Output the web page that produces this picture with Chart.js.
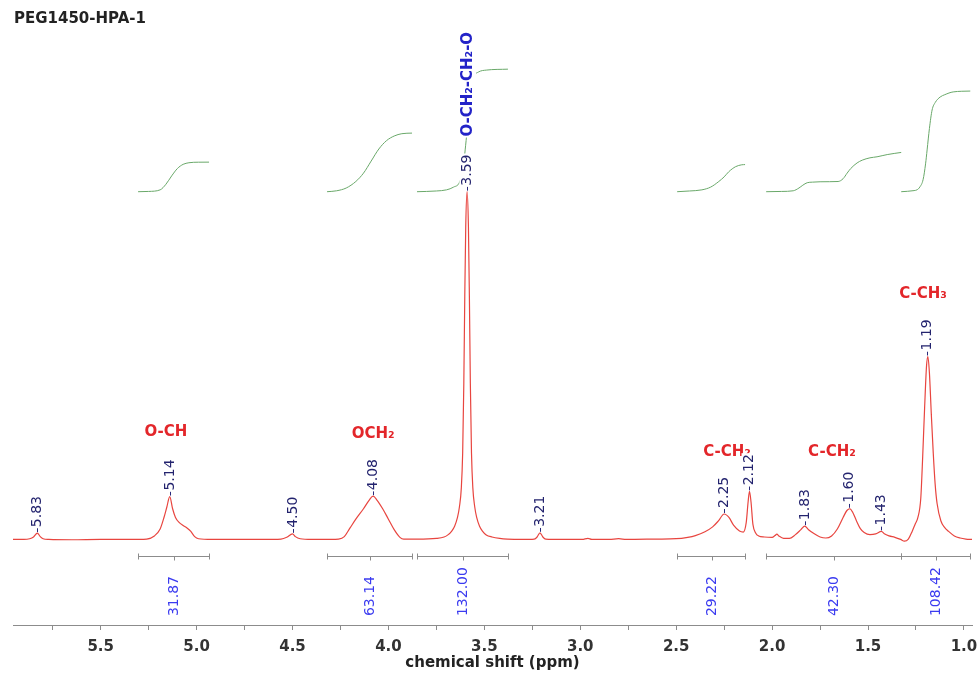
<!DOCTYPE html>
<html>
<head>
<meta charset="utf-8">
<script src="https://cdn.jsdelivr.net/npm/chart.js@4.4.1/dist/chart.umd.min.js"></script>
<style>
html, body { margin: 0; padding: 0; background: #fff; }
#wrap { position: relative; width: 977px; height: 677px; }
#sample { position: absolute; left: 14px; top: 9px; font: bold 15px "DejaVu Sans", sans-serif; color: #222; }
</style>
</head>
<body>
<div id="wrap">
  <div id="sample">PEG1450-HPA-1</div>
  <canvas id="nmr"></canvas>
</div>
<script>
// 1H spectrum (ppm, relative intensity; main peak = 100)
const specPpm = [5.957, 5.90, 5.87, 5.85, 5.83, 5.815, 5.80, 5.77, 5.65, 5.50, 5.40, 5.30,
  5.26, 5.22, 5.19, 5.17, 5.155, 5.14, 5.125, 5.11, 5.09, 5.07, 5.05, 5.03, 5.01, 4.99,
  4.92, 4.80, 4.65, 4.56, 4.53, 4.50, 4.485, 4.46, 4.40, 4.30,
  4.26, 4.23, 4.20, 4.17, 4.13, 4.10, 4.08, 4.06, 4.03, 4.00, 3.97, 3.94, 3.92,
  3.85, 3.75,
  3.71, 3.69, 3.67, 3.655, 3.64, 3.63, 3.62, 3.613, 3.607, 3.602, 3.597, 3.59,
  3.583, 3.578, 3.573, 3.567, 3.56, 3.55, 3.54, 3.525, 3.51, 3.49, 3.46,
  3.42, 3.38, 3.30,
  3.24, 3.225, 3.21, 3.195, 3.18, 3.10, 2.99, 2.96, 2.94, 2.85, 2.80, 2.76, 2.60,
  2.50, 2.44, 2.40, 2.35, 2.31, 2.28, 2.25, 2.225, 2.20, 2.17, 2.15,
  2.135, 2.125, 2.118, 2.11, 2.10, 2.085, 2.07, 2.04, 2.00, 1.985, 1.975, 1.965,
  1.94, 1.91, 1.88, 1.85, 1.83, 1.81, 1.78, 1.75, 1.72,
  1.69, 1.66, 1.63, 1.61, 1.595, 1.58, 1.56, 1.54, 1.52, 1.49, 1.46, 1.43, 1.415,
  1.39, 1.36, 1.33, 1.31, 1.29, 1.27, 1.255, 1.24, 1.225, 1.215, 1.205, 1.195, 1.188,
  1.18, 1.17, 1.16, 1.15, 1.14, 1.12, 1.10, 1.08, 1.05, 1.02, 0.99, 0.958];
const specInt = [0.2, 0.2, 0.4, 0.9, 2.0, 1.0, 0.4, 0.2, 0.1, 0.2, 0.2, 0.2,
  0.3, 1.2, 3.2, 6.5, 9.5, 12.5, 9.0, 6.5, 5.0, 4.2, 3.5, 2.5, 1.0, 0.4,
  0.2, 0.2, 0.2, 0.3, 0.8, 1.8, 1.0, 0.4, 0.2, 0.2,
  0.3, 1.0, 3.5, 6.0, 9.0, 11.5, 12.6, 11.5, 9.0, 6.0, 3.0, 0.8, 0.3,
  0.3, 0.5,
  0.9, 1.5, 2.6, 4.0, 6.5, 9.5, 15, 25, 45, 70, 90, 100,
  90, 70, 45, 25, 15, 9.5, 6.5, 4.0, 2.6, 1.5, 0.9,
  0.5, 0.3, 0.2,
  0.3, 0.9, 2.1, 0.9, 0.3, 0.2, 0.2, 0.5, 0.2, 0.2, 0.4, 0.2, 0.3,
  0.4, 0.8, 1.3, 2.4, 3.8, 5.5, 7.5, 6.5, 4.2, 2.6, 2.3,
  5, 11, 14, 11, 4.5, 2, 1.2, 0.9, 0.8, 1.3, 1.7, 1.2,
  0.5, 0.5, 1.5, 3.0, 4.0, 3.0, 1.8, 0.9, 0.6,
  1.2, 3.2, 6.5, 8.5, 9.0, 8.0, 5.5, 3.3, 2.2, 1.6, 1.8, 2.5, 1.8,
  1.2, 0.8, 0.2, -0.3, 0.3, 2.5, 4.5, 6.5, 12, 24, 38, 50, 52.7,
  48, 36, 25, 16, 10.5, 5.5, 3.6, 2.5, 1.2, 0.6, 0.3, 0.2];

// picked peaks
const peakPpm = [5.83, 5.14, 4.50, 4.08, 3.59, 3.21, 2.25, 2.12, 1.83, 1.60, 1.43, 1.19];

// integral regions and values
const intFrom = [5.305, 4.32, 3.851, 2.495, 2.031, 1.327];
const intTo = [4.935, 3.877, 3.377, 2.141, 1.327, 0.967];
const intText = ['31.87', '63.14', '132.00', '29.22', '42.30', '108.42'];

// integral curves (running integral)
const int1Ppm = [5.305, 5.25, 5.19, 5.16, 5.13, 5.10, 5.07, 5.04, 4.99, 4.935];
const int1Val = [0, 0.3, 2, 8, 17, 25, 29.5, 31.2, 31.8, 31.87];
const int2Ppm = [4.32, 4.27, 4.22, 4.17, 4.13, 4.09, 4.05, 4.01, 3.97, 3.93, 3.877];
const int2Val = [0, 1, 4, 11, 20, 33, 46, 55, 60, 62.5, 63.14];
const int3Ppm = [3.851, 3.75, 3.697, 3.66, 3.63, 3.61, 3.60, 3.59, 3.58, 3.57, 3.555, 3.53, 3.49, 3.377];
const int3Val = [0, 0.8, 2, 5, 10, 25, 45, 66, 92, 112, 124, 129, 131, 132];
const int4Ppm = [2.495, 2.43, 2.366, 2.32, 2.278, 2.25, 2.226, 2.19, 2.158, 2.141];
const int4Val = [0, 0.8, 2, 5, 11, 16, 21.5, 27, 29, 29.22];
const int5Ppm = [2.031, 1.95, 1.89, 1.86, 1.84, 1.817, 1.79, 1.75, 1.70, 1.656, 1.63, 1.609, 1.59, 1.557, 1.53, 1.49, 1.453, 1.40, 1.327];
const int5Val = [0, 0.3, 1, 4, 7, 9.7, 10.3, 10.7, 10.8, 11, 14, 20, 25, 31, 34, 36.5, 37.6, 40, 42.3];
const int6Ppm = [1.327, 1.26, 1.245, 1.23, 1.213, 1.20, 1.192, 1.18, 1.166, 1.15, 1.124, 1.10, 1.056, 0.967];
const int6Val = [0, 1.2, 2, 5, 13, 30, 45, 68, 88, 96, 102, 104.5, 107.5, 108.42];

// group assignments
const groupText = ['O-CH', 'OCH₂', 'C-CH₂', 'C-CH₂', 'C-CH₃'];
const groupPpm = [5.16, 4.08, 2.235, 1.688, 1.213];
const groupLevel = [30.9, 30.4, 25.2, 25.2, 70.5];

const toXY = (xs, ys) => xs.map((v, i) => ({ x: v, y: ys[i] }));

function intCurve(xs, ys) {
    return {
        data: toXY(xs, ys),
        yAxisID: 'y2',
        borderColor: '#69a869',
        borderWidth: 1,
        pointRadius: 0,
        cubicInterpolationMode: 'monotone'
    };
}

function peakTop(p) {
    let best = 0;
    specPpm.forEach((v, i) => {
        if (Math.abs(v - p) < 0.015 && specInt[i] > best) best = specInt[i];
    });
    return best;
}

function vText(ctx, text, px, py, font, color, bg) {
    ctx.save();
    ctx.translate(px, py);
    ctx.rotate(-Math.PI / 2);
    ctx.font = font;
    ctx.textAlign = 'left';
    ctx.textBaseline = 'middle';
    if (bg) {
        const w = ctx.measureText(text).width;
        ctx.fillStyle = '#fff';
        ctx.fillRect(-1, -8, w + 2, 16);
    }
    ctx.fillStyle = color;
    ctx.fillText(text, 0, 0);
    ctx.restore();
}

const labelPlugin = {
    id: 'nmrLabels',
    afterDatasetsDraw(chart) {
        const { ctx, scales: { x, y } } = chart;
        ctx.save();

        // integral brackets + values
        const by = Math.round(y.getPixelForValue(-4.6)) + 0.5;
        ctx.strokeStyle = '#8c8c8c';
        ctx.lineWidth = 1;
        intFrom.forEach((from, i) => {
            const x1 = Math.round(x.getPixelForValue(from)) + 0.5;
            const x2 = Math.round(x.getPixelForValue(intTo[i])) + 0.5;
            const xc = Math.round((x1 + x2) / 2) + 0.5;
            ctx.beginPath();
            ctx.moveTo(x1, by); ctx.lineTo(x2, by);
            ctx.moveTo(x1, by - 3); ctx.lineTo(x1, by + 3);
            ctx.moveTo(x2, by - 3); ctx.lineTo(x2, by + 3);
            ctx.moveTo(xc, by); ctx.lineTo(xc, by + 4);
            ctx.stroke();
            vText(ctx, intText[i], xc, y.getPixelForValue(-21.8), '14px "DejaVu Sans"', '#3b3bf0');
        });

        // group labels
        ctx.font = 'bold 15px "DejaVu Sans"';
        ctx.fillStyle = '#e3262a';
        ctx.textAlign = 'center';
        ctx.textBaseline = 'middle';
        groupText.forEach((t, i) => {
            ctx.fillText(t, x.getPixelForValue(groupPpm[i]), y.getPixelForValue(groupLevel[i]));
        });

        // peak picks
        peakPpm.forEach(p => {
            const px = Math.round(x.getPixelForValue(p)) + 0.5;
            const py = y.getPixelForValue(peakTop(p));
            ctx.strokeStyle = '#2a2a7a';
            ctx.beginPath();
            ctx.moveTo(px, py - 1);
            ctx.lineTo(px, py - 5);
            ctx.stroke();
            vText(ctx, p.toFixed(2), px, py - 6, '14px "DejaVu Sans"', '#23236e', true);
        });

        // main chain label
        vText(ctx, 'O-CH₂-CH₂-O', x.getPixelForValue(3.585), y.getPixelForValue(115.8),
            'bold 15px "DejaVu Sans"', '#2323c8', true);

        ctx.restore();
    }
};

new Chart(document.getElementById('nmr'), {
    type: 'line',
    data: {
        datasets: [
            {
                data: toXY(specPpm, specInt),
                yAxisID: 'y',
                borderColor: '#e8453f',
                borderWidth: 1.2,
                pointRadius: 0,
                cubicInterpolationMode: 'monotone'
            },
            intCurve(int1Ppm, int1Val),
            intCurve(int2Ppm, int2Val),
            intCurve(int3Ppm, int3Val),
            intCurve(int4Ppm, int4Val),
            intCurve(int5Ppm, int5Val),
            intCurve(int6Ppm, int6Val)
        ]
    },
    options: {
        responsive: true,
        maintainAspectRatio: false,
        animation: false,
        layout: { padding: { left: 13, right: 5, top: 0, bottom: 4 } },
        plugins: { legend: { display: false }, tooltip: { enabled: false } },
        scales: {
            x: {
                type: 'linear',
                reverse: true,
                min: 0.958,
                max: 5.957,
                afterFit: scale => { scale.paddingLeft = 0; scale.paddingRight = 0; },
                border: { color: '#8c8c8c', width: 1 },
                grid: { drawOnChartArea: false, tickLength: 5, color: '#8c8c8c' },
                ticks: {
                    stepSize: 0.25,
                    includeBounds: false,
                    autoSkip: false,
                    maxRotation: 0,
                    padding: 9,
                    color: '#333',
                    font: { family: 'DejaVu Sans', size: 15, weight: 'bold', lineHeight: 1.1 },
                    callback: v => (Math.abs(v * 2 - Math.round(v * 2)) < 1e-6 ? v.toFixed(1) : '')
                },
                title: {
                    display: true,
                    text: 'chemical shift (ppm)',
                    color: '#222',
                    padding: { top: -10, bottom: 2 },
                    font: { family: 'DejaVu Sans', size: 15, weight: 'bold', lineHeight: 1.1 }
                }
            },
            y: { display: false, min: -24.36, max: 155.0 },
            y2: { display: false, min: -466.7, max: 206.5 }
        }
    },
    plugins: [labelPlugin]
});
</script>
</body>
</html>
